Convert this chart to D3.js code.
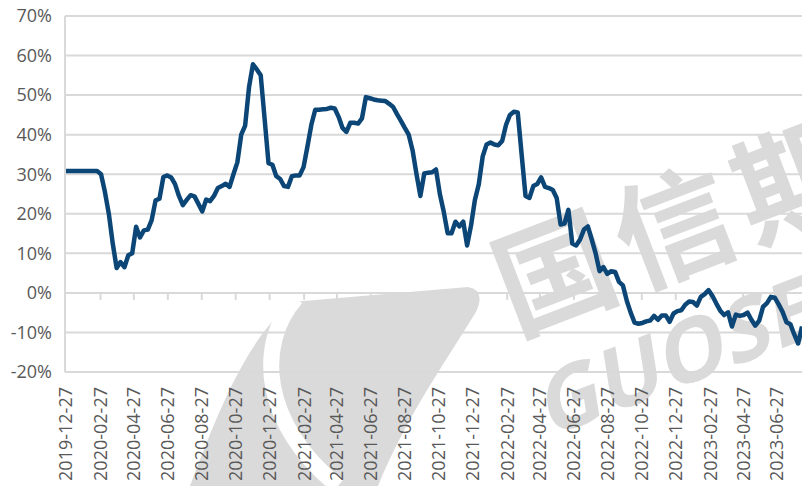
<!DOCTYPE html>
<html>
<head>
<meta charset="utf-8">
<script src="https://cdn.jsdelivr.net/npm/d3@7"></script>
<style>
  body { margin: 0; background: #ffffff; }
  text { font-family: "Open Sans", "Liberation Sans", sans-serif; }
</style>
</head>
<body>
<div id="chart"></div>
<script>
/** first week of the series, one value per week after that */
var startDate = "2019-12-27";

/** weekly values in percent */
var weekValues = [
  30.8, 30.8, 30.8, 30.8, 30.8, 30.8, 30.8, 30.8, 30.8, 30.0,
  25.5, 20.0, 12.5, 6.3, 7.8, 6.5, 9.5, 10.0, 16.7, 14.0,
  15.8, 16.0, 18.4, 23.4, 23.8, 29.3, 29.7, 29.2, 27.5, 24.5,
  22.2, 23.5, 24.7, 24.4, 22.5, 20.6, 23.6, 23.2, 24.5, 26.5,
  27.0, 27.6, 26.8, 30.0, 33.0, 40.0, 42.3, 52.0, 57.8, 56.5,
  55.0, 44.0, 32.8, 32.4, 29.5, 28.8, 27.0, 26.8, 29.5, 29.7,
  29.7, 31.8, 37.0, 42.5, 46.3, 46.3, 46.4, 46.5, 46.8, 46.6,
  44.5, 41.7, 40.7, 43.0, 43.0, 42.8, 44.1, 49.5, 49.2, 48.9,
  48.7, 48.6, 48.5, 47.8, 47.0, 45.2, 43.5, 41.7, 40.0, 36.0,
  30.0, 24.5, 30.2, 30.4, 30.5, 31.2, 25.0, 20.5, 15.1, 15.1,
  18.0, 16.8, 18.0, 12.0, 17.0, 23.5, 27.5, 34.5, 37.5, 38.0,
  37.5, 37.3, 38.4, 42.5, 45.0, 45.8, 45.6, 35.0, 24.5, 24.0,
  27.0, 27.5, 29.2, 26.8, 26.5, 26.0, 24.0, 17.3, 17.5, 21.0,
  12.5, 12.0, 13.5, 16.0, 16.8, 13.5, 10.0, 5.5, 6.5, 4.8,
  5.5, 5.3, 2.8, 1.9, -2.0, -5.0, -7.5, -7.8, -7.6, -7.2,
  -7.0, -5.8, -6.8, -5.7, -5.7, -7.3, -5.2, -4.6, -4.4, -3.0,
  -2.2, -2.3, -3.2, -1.0, -0.3, 0.7, -0.8, -2.7, -4.5, -5.6,
  -4.9, -8.5, -5.5, -5.8, -5.6, -5.0, -6.8, -8.3, -7.0, -3.5,
  -2.6, -1.0, -1.2, -2.9, -4.8, -7.4, -7.9, -10.5, -12.8, -8.5
];

/** axis labels */
var xTickLabels = [
  "2019-12-27", "2020-02-27", "2020-04-27", "2020-06-27", "2020-08-27", "2020-10-27",
  "2020-12-27", "2021-02-27", "2021-04-27", "2021-06-27", "2021-08-27", "2021-10-27",
  "2021-12-27", "2022-02-27", "2022-04-27", "2022-06-27", "2022-08-27", "2022-10-27",
  "2022-12-27", "2023-02-27", "2023-04-27", "2023-06-27"
];
var yTicks = [-20, -10, 0, 10, 20, 30, 40, 50, 60, 70];

/** size of the picture and of the plot */
var width = 802;
var height = 486;
var plot = {left: 65, right: 802, top: 16, bottom: 372};

var parse = d3.utcParse("%Y-%m-%d");
var fmt = d3.utcFormat("%Y-%m-%d");
var start = parse(startDate);

/** one record per week */
var data = weekValues.map(function(v, i) {
  return {date: d3.utcDay.offset(start, 7 * i), value: v};
});

var svg = d3.select("#chart")
  .append("svg")
    .attr("width", width)
    .attr("height", height);

/** x is a date axis: first label sits on the axis, last label near the right edge */
var x = d3.scaleUtc()
  .domain([parse(xTickLabels[0]), parse(xTickLabels[xTickLabels.length - 1])])
  .range([66, 777]);

var y = d3.scaleLinear()
  .domain([-20, 70])
  .range([plot.bottom, plot.top]);

/** faint watermark (logo + company name) behind everything */
var wm = svg.append("g")
  .attr("fill", "#dadada");
wm.append("path")
  .attr("d", "M190,486 C215,420 245,340 292,302 L468,287 Q486,290 476,312 " +
             "C440,370 405,420 378,486 Z");
wm.append("path")
  .attr("d", "M296,298 C255,345 262,425 338,486")
  .attr("fill", "none")
  .attr("stroke", "#ffffff")
  .attr("stroke-width", 16);
wm.append("text")
  .attr("transform", "translate(515,335) rotate(-21)")
  .style("font-family", "'Noto Sans CJK SC', sans-serif")
  .style("font-size", "118px")
  .style("font-weight", "bold")
  .style("letter-spacing", "10px")
  .text("国信期货");
wm.append("text")
  .attr("transform", "translate(548,438) rotate(-21) skewX(-12)")
  .style("font-size", "86px")
  .style("font-weight", "bold")
  .text("GUOSEN");

/** horizontal gridlines */
svg.append("g")
  .selectAll("line")
  .data(yTicks)
  .enter()
  .append("line")
    .attr("x1", plot.left)
    .attr("x2", plot.right)
    .attr("y1", function(d) { return y(d); })
    .attr("y2", function(d) { return y(d); })
    .attr("stroke", "#d9d9d9")
    .attr("stroke-width", 2);

/** vertical axis line */
svg.append("line")
  .attr("x1", plot.left)
  .attr("x2", plot.left)
  .attr("y1", y(70))
  .attr("y2", y(-20))
  .attr("stroke", "#d9d9d9")
  .attr("stroke-width", 2);

/** y labels */
svg.append("g")
  .selectAll("text")
  .data(yTicks)
  .enter()
  .append("text")
    .attr("x", 52)
    .attr("y", function(d) { return y(d); })
    .attr("dy", "0.35em")
    .attr("text-anchor", "end")
    .attr("fill", "#595959")
    .style("font-size", "18px")
    .text(function(d) { return d + "%"; });

/** tick marks on the 0% line, and the rotated date labels below the plot */
var xTickDates = xTickLabels.map(parse);
svg.append("g")
  .selectAll("line")
  .data(xTickDates.slice(1).concat([d3.utcMonth.offset(xTickDates[xTickDates.length - 1], 2)]))
  .enter()
  .append("line")
    .attr("x1", function(d) { return x(d); })
    .attr("x2", function(d) { return x(d); })
    .attr("y1", y(0))
    .attr("y2", y(0) + 7)
    .attr("stroke", "#d9d9d9")
    .attr("stroke-width", 2);

svg.append("g")
  .selectAll("text")
  .data(xTickDates)
  .enter()
  .append("text")
    .attr("transform", function(d) { return "translate(" + x(d) + ",387) rotate(-90)"; })
    .attr("dy", "0.36em")
    .attr("text-anchor", "end")
    .attr("fill", "#595959")
    .style("font-size", "18px")
    .text(function(d) { return fmt(d); });

/** the series */
var line = d3.line()
  .x(function(d) { return x(d.date); })
  .y(function(d) { return y(d.value); });

svg.append("clipPath")
  .attr("id", "clip")
  .append("rect")
    .attr("x", plot.left)
    .attr("y", 0)
    .attr("width", plot.right - plot.left)
    .attr("height", height);

svg.append("path")
  .datum(data)
  .attr("clip-path", "url(#clip)")
  .attr("d", line)
  .attr("fill", "none")
  .attr("stroke", "#0b4677")
  .attr("stroke-width", 4.5)
  .attr("stroke-linejoin", "round");
</script>
</body>
</html>
